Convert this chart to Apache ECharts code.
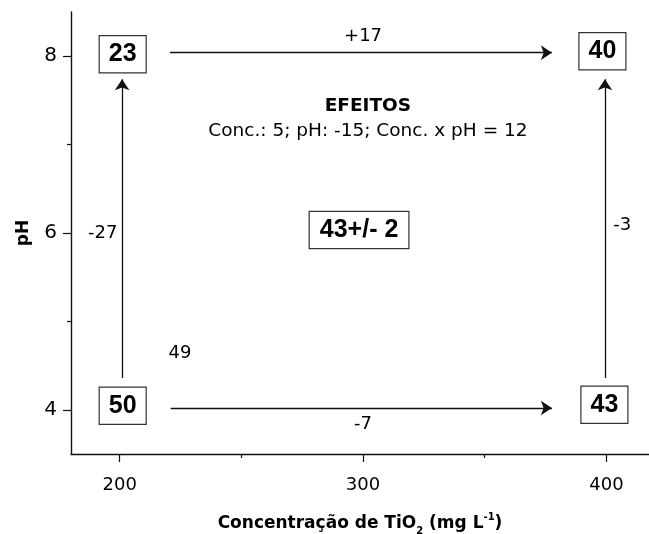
<!DOCTYPE html>
<html>
<head>
<meta charset="utf-8">
<script src="https://cdn.jsdelivr.net/npm/echarts@6/dist/echarts.min.js"></script>
<style>
  html, body { margin: 0; padding: 0; background: #fff; }
  #chart { width: 649px; height: 534px; }
</style>
</head>
<body>
<div id="chart"></div>
<script>
// ---- data ----
const xTickValues = [200, 300, 400];
const xMinorTicks = [250, 350];
const yTickValues = [4, 6, 8];
const yMinorTicks = [5, 7];

const cornerX = [200, 400, 200, 400];
const cornerY = [8, 8, 4, 4];
const cornerResponse = ['23', '40', '50', '43'];

const centerX = 300;
const centerY = 6;
const centerResponse = '43+/- 2';

const effectText = ['+17', '-7', '-27', '-3', '49'];
const effectX = [300, 300, 193, 406.5, 224.8];
const effectY = [8.23, 3.83, 6.0, 6.09, 4.64];

const arrowFromX = [220.7, 221, 201, 399.4];
const arrowFromY = [8.04, 4.02, 4.36, 4.36];
const arrowToX = [377.6, 377.6, 201, 399.4];
const arrowToY = [8.04, 4.02, 7.74, 7.74];

const summaryTitle = 'EFEITOS';
const summaryText = 'Conc.: 5; pH: -15; Conc. x pH = 12';
const summaryX = 302;
const summaryTitleY = 7.43;
const summaryTextY = 7.15;

// ---- styling ----
const INK = '#111';
const REG = 'DejaVu Sans';
const BOLDNUM = 'Liberation Sans';
const boxNudge = [[3, -2], [-4, -5], [3, -4], [-2, -5]];

const chart = echarts.init(document.getElementById('chart'), null, { renderer: 'canvas' });

const boxLabel = {
  show: true,
  position: 'inside',
  fontFamily: BOLDNUM,
  fontWeight: 'bold',
  fontSize: 25,
  color: '#000',
  textBorderWidth: 0,
  borderColor: '#333',
  borderWidth: 1.2,
  backgroundColor: '#fff',
  padding: [6, 9, 5, 9],
  formatter: p => p.data.value[2]
};

const cornerData = cornerX.map((x, i) => ({
  value: [x, cornerY[i], cornerResponse[i]],
  label: { offset: boxNudge[i] }
}));
cornerData.push({ value: [centerX, centerY, centerResponse], label: { offset: [-4, -3], padding: [6, 10, 5, 10] } });

const effectData = effectText.map((t, i) => ({ value: [effectX[i], effectY[i], t] }));

const arrowData = arrowFromX.map((x, i) => ({
  coords: [[x, arrowFromY[i]], [arrowToX[i], arrowToY[i]]]
}));

const summaryData = [
  { value: [summaryX, summaryTitleY, summaryTitle], label: { fontWeight: 'bold', fontSize: 18.5 } },
  { value: [summaryX, summaryTextY, summaryText], label: { fontSize: 18.5 } }
];

const option = {
  backgroundColor: '#fff',
  animation: false,
  grid: { left: 71, right: 0, top: 12, bottom: 80, containLabel: false, outerBoundsMode: 'none' },
  xAxis: [{
    type: 'value', min: 180, max: 417.5,
    axisLine: { show: true, onZero: false, lineStyle: { color: INK, width: 1.4 } },
    axisTick: { show: true, customValues: xTickValues, length: 8, lineStyle: { color: INK, width: 1.2 } },
    axisLabel: { customValues: xTickValues, margin: 22, fontFamily: REG, fontSize: 18, color: '#000' },
    splitLine: { show: false },
    name: '{b|Concentração de TiO}{sub|2}{b| (mg L}{sup|-1}{b|)}',
    nameLocation: 'middle',
    nameGap: 58,
    nameTextStyle: {
      fontFamily: REG, fontWeight: 'bold', fontSize: 17, color: '#000',
      rich: {
        b: { fontFamily: REG, fontWeight: 'bold', fontSize: 17, color: '#000', lineHeight: 24 },
        sub: { fontFamily: REG, fontWeight: 'bold', fontSize: 10, color: '#000', lineHeight: 10, verticalAlign: 'bottom' },
        sup: { fontFamily: REG, fontWeight: 'bold', fontSize: 10, color: '#000', lineHeight: 10, verticalAlign: 'top' }
      }
    }
  }, {
    type: 'value', min: 180, max: 417.5, position: 'bottom',
    axisLine: { show: false, onZero: false },
    axisTick: { show: true, customValues: xMinorTicks, length: 4, lineStyle: { color: INK, width: 1.2 } },
    axisLabel: { show: false },
    splitLine: { show: false }
  }],
  yAxis: [{
    type: 'value', min: 3.5, max: 8.5,
    axisLine: { show: true, onZero: false, lineStyle: { color: INK, width: 1.4 } },
    axisTick: { show: true, customValues: yTickValues, length: 8, lineStyle: { color: INK, width: 1.2 } },
    axisLabel: { customValues: yTickValues, margin: 14, fontFamily: REG, fontSize: 20, color: '#000' },
    splitLine: { show: false },
    name: 'pH',
    nameLocation: 'middle',
    nameRotate: 90,
    nameGap: 39,
    nameTextStyle: { fontFamily: REG, fontWeight: 'bold', fontSize: 17, color: '#000' }
  }, {
    type: 'value', min: 3.5, max: 8.5, position: 'left',
    axisLine: { show: false, onZero: false },
    axisTick: { show: true, customValues: yMinorTicks, length: 4, lineStyle: { color: INK, width: 1.2 } },
    axisLabel: { show: false },
    splitLine: { show: false }
  }],
  series: [
    {
      type: 'lines',
      coordinateSystem: 'cartesian2d',
      xAxisIndex: 0, yAxisIndex: 0,
      symbol: ['none', 'arrow'],
      symbolSize: [7, 11],
      lineStyle: { color: INK, width: 1.3, opacity: 1, type: 'solid' },
      itemStyle: { color: INK },
      data: arrowData,
      silent: true
    },
    {
      type: 'scatter',
      xAxisIndex: 0, yAxisIndex: 0,
      symbolSize: 1,
      itemStyle: { color: 'rgba(0,0,0,0)', opacity: 1 },
      label: boxLabel,
      data: cornerData,
      silent: true
    },
    {
      type: 'scatter',
      xAxisIndex: 0, yAxisIndex: 0,
      symbolSize: 1,
      itemStyle: { color: 'rgba(0,0,0,0)', opacity: 1 },
      label: {
        show: true, position: 'inside', fontFamily: REG, fontSize: 18, color: '#000', textBorderWidth: 0,
        formatter: p => p.data.value[2]
      },
      data: effectData.concat(summaryData),
      silent: true
    }
  ]
};
chart.setOption(option);
</script>
</body>
</html>
